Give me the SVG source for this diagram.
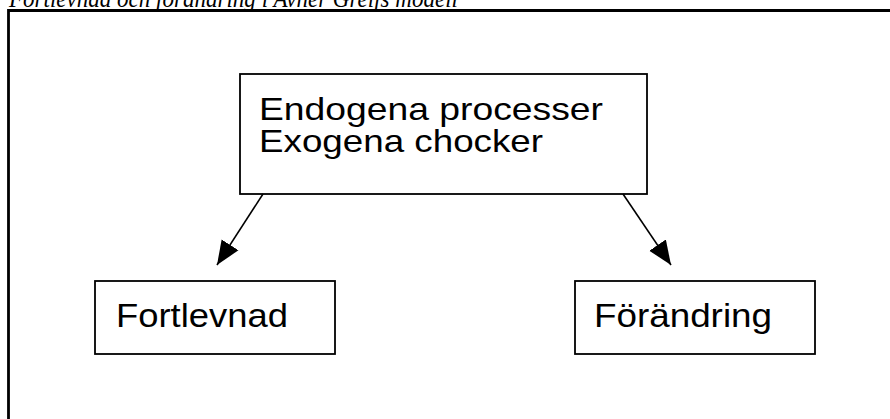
<svg xmlns="http://www.w3.org/2000/svg" width="890" height="419" viewBox="0 0 890 419">
<style>
.box{fill:#fff;stroke:#000;stroke-width:1.8}
.lbl{font-family:"Liberation Sans",Arial,sans-serif;font-size:32px;fill:#000}
.lbl2{font-family:"Liberation Sans",Arial,sans-serif;font-size:34px;fill:#000}
.title{font-family:"Liberation Serif","Times New Roman",serif;font-style:italic;font-size:26px;fill:#000}
.conn{stroke:#000;stroke-width:1.6;fill:none}
</style>
<defs>
<marker id="arr" markerUnits="userSpaceOnUse" markerWidth="26" markerHeight="24" viewBox="0 0 26 24" refX="24" refY="12" orient="auto">
<path d="M0,2 L24,12 L0,22 Z" fill="#000"/>
</marker>
</defs>
<text class="title" x="9" y="7" textLength="449" lengthAdjust="spacingAndGlyphs">Fortlevnad och förändring i Avner Greifs modell</text>
<path d="M8.5,430 V10.5 H900" fill="none" stroke="#000" stroke-width="2.8"/>
<g id="top">
<rect class="box" x="240" y="74" width="407" height="120"/>
<text class="lbl" x="259" y="120" textLength="344" lengthAdjust="spacingAndGlyphs">Endogena processer</text>
<text class="lbl" x="259" y="152" textLength="284" lengthAdjust="spacingAndGlyphs">Exogena chocker</text>
</g>
<g id="fortlevnad">
<rect class="box" x="95" y="281" width="240" height="73"/>
<text class="lbl2" x="116" y="327" textLength="172" lengthAdjust="spacingAndGlyphs">Fortlevnad</text>
</g>
<g id="forandring">
<rect class="box" x="575" y="281" width="240" height="73"/>
<text class="lbl2" x="594" y="327" textLength="178" lengthAdjust="spacingAndGlyphs">Förändring</text>
</g>
<g id="connectors">
<line class="conn" x1="263" y1="194" x2="217" y2="265" marker-end="url(#arr)"/>
<line class="conn" x1="623" y1="194" x2="671" y2="265" marker-end="url(#arr)"/>
</g>
</svg>
